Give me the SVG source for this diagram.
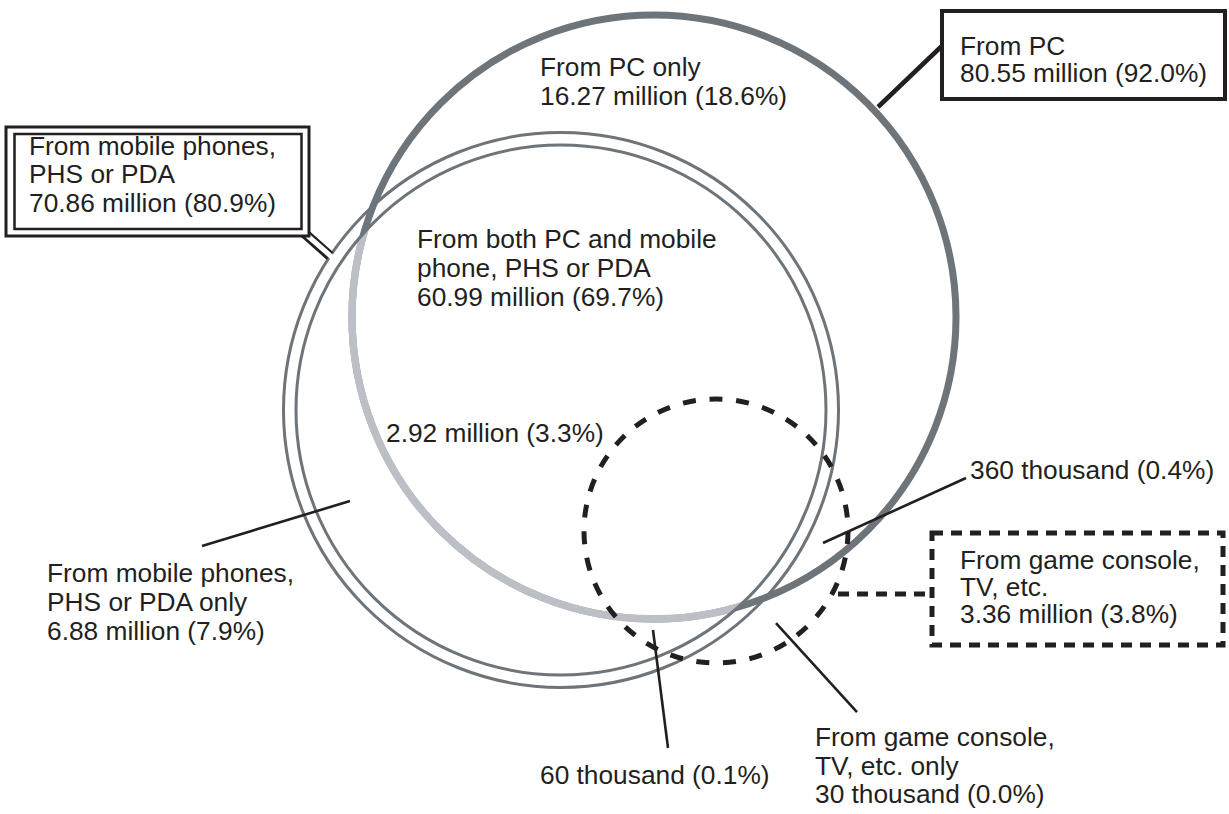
<svg xmlns="http://www.w3.org/2000/svg" width="1229" height="814" viewBox="0 0 1229 814">
<style>
text{font-family:"Liberation Sans",Arial,sans-serif;font-size:26.3px;fill:#231f20}
.ln{stroke:#231f20;stroke-width:2.6;fill:none}
.gr{stroke:#6d747a;fill:none}
.dsh{stroke:#231f20;stroke-width:5;fill:none}
</style>
<defs>
<clipPath id="inMobile"><circle cx="561" cy="410" r="265"/></clipPath>
</defs>
<rect width="1229" height="814" fill="#fff"/>
<g id="node-pc">
<circle class="gr" cx="654" cy="317" r="302" stroke-width="7"/>
<circle cx="654" cy="317" r="302" fill="none" stroke="#bcc0c6" stroke-width="7.5" clip-path="url(#inMobile)"/>
</g>
<g id="node-mobile">
<circle class="gr" cx="561" cy="410" r="277.5" stroke-width="3"/>
<circle class="gr" cx="561" cy="410" r="265" stroke-width="3"/>
</g>
<g id="node-game">
<circle class="dsh" cx="716" cy="531" r="132" stroke-dasharray="13 13.75"/>
</g>
<g id="connectors">
<line x1="878" y1="107" x2="945" y2="43" stroke="#231f20" stroke-width="4.5"/>
<polyline points="303,232 330,256" fill="none" stroke="#231f20" stroke-width="10"/>
<polyline points="301,230 333,258" fill="none" stroke="#fff" stroke-width="5"/>
<line class="ln" x1="202" y1="546" x2="350" y2="501"/>
<line class="ln" x1="823" y1="543" x2="966" y2="478"/>
<line class="ln" x1="653" y1="630" x2="668" y2="748"/>
<line class="ln" x1="776" y1="623" x2="857" y2="712"/>
<line class="dsh" x1="838" y1="594" x2="932" y2="594" stroke-dasharray="11 8"/>
</g>
<g id="box-pc">
<rect x="942" y="11" width="283" height="88" fill="#fff" stroke="#231f20" stroke-width="4"/>
<text x="960" y="55">From PC</text>
<text x="960" y="82">80.55 million (92.0%)</text>
</g>
<g id="box-mobile">
<rect x="6" y="127" width="303" height="109" fill="#fff" stroke="#231f20" stroke-width="3"/>
<rect x="14.5" y="134" width="287" height="95" fill="none" stroke="#231f20" stroke-width="2.5"/>
<text x="29" y="155">From mobile phones,</text>
<text x="29" y="183">PHS or PDA</text>
<text x="29" y="212">70.86 million (80.9%)</text>
</g>
<g id="box-game">
<rect x="932" y="533" width="291" height="112" class="dsh" stroke-dasharray="11 8"/>
<text x="960" y="569">From game console,</text>
<text x="960" y="596">TV, etc.</text>
<text x="960" y="623">3.36 million (3.8%)</text>
</g>
<g id="label-pc-only">
<text x="540" y="76">From PC only</text>
<text x="540" y="105">16.27 million (18.6%)</text>
</g>
<g id="label-both">
<text x="417" y="248">From both PC and mobile</text>
<text x="417" y="277">phone, PHS or PDA</text>
<text x="417" y="306">60.99 million (69.7%)</text>
</g>
<g id="label-all3"><text x="386" y="442">2.92 million (3.3%)</text></g>
<g id="label-pc-game"><text x="970" y="479">360 thousand (0.4%)</text></g>
<g id="label-mobile-only">
<text x="47" y="582">From mobile phones,</text>
<text x="47" y="611">PHS or PDA only</text>
<text x="47" y="640">6.88 million (7.9%)</text>
</g>
<g id="label-mobile-game"><text x="540" y="784">60 thousand (0.1%)</text></g>
<g id="label-game-only">
<text x="815" y="746">From game console,</text>
<text x="815" y="775">TV, etc. only</text>
<text x="815" y="803">30 thousand (0.0%)</text>
</g>
</svg>
